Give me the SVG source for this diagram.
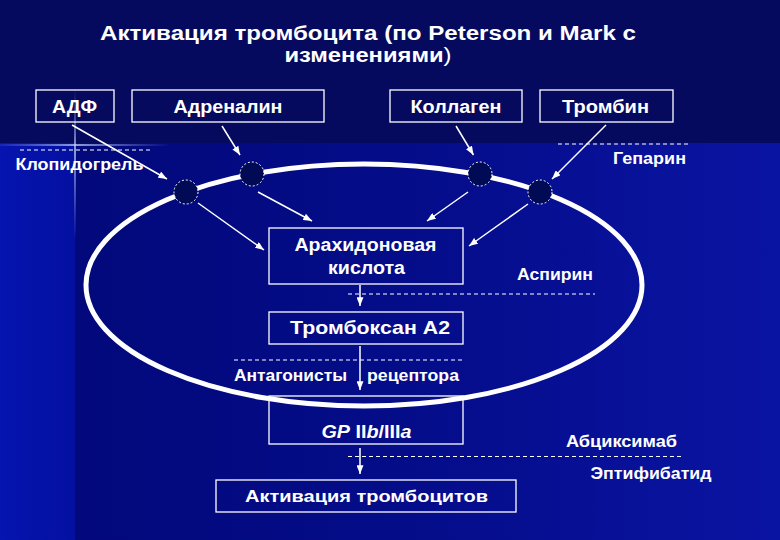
<svg xmlns="http://www.w3.org/2000/svg" width="780" height="540" viewBox="0 0 780 540">
<defs>
<style>
text{font-family:"Liberation Sans",Arial,sans-serif;font-weight:bold;fill:#fff}
.box{fill:none;stroke:#fff;stroke-width:1.3}
.conn{stroke:#fff;stroke-width:1.5;fill:none}
.dash{stroke:#fff;stroke-width:1;stroke-dasharray:4 3;fill:none}
.rec{fill:#000a55;stroke:#fff;stroke-width:1;stroke-dasharray:2 2}
</style>
<marker id="ah" viewBox="0 0 10 8" refX="10" refY="4" markerWidth="9" markerHeight="7" markerUnits="userSpaceOnUse" orient="auto">
<path d="M0,0 L10,4 L0,8 z" fill="#fff"/>
</marker>
<linearGradient id="bgm" x1="0" y1="0" x2="1" y2="0">
<stop offset="0" stop-color="#020878"/>
<stop offset="0.5" stop-color="#040c88"/>
<stop offset="1" stop-color="#0a14a2"/>
</linearGradient>
<linearGradient id="bgl" x1="0" y1="0" x2="1" y2="0">
<stop offset="0" stop-color="#0614b0"/>
<stop offset="1" stop-color="#0410a0"/>
</linearGradient>
<linearGradient id="glv" x1="0" y1="0" x2="0" y2="1">
<stop offset="0" stop-color="#9fb8ff" stop-opacity="0"/>
<stop offset="0.4" stop-color="#c8d8ff" stop-opacity="0.7"/>
<stop offset="1" stop-color="#9fb8ff" stop-opacity="0"/>
</linearGradient>
<linearGradient id="glh" x1="0" y1="0" x2="1" y2="0">
<stop offset="0" stop-color="#9fb8ff" stop-opacity="0.1"/>
<stop offset="0.45" stop-color="#c8d8ff" stop-opacity="0.7"/>
<stop offset="1" stop-color="#9fb8ff" stop-opacity="0"/>
</linearGradient>
</defs>

<g id="background">
<rect x="0" y="0" width="780" height="540" fill="url(#bgm)"/>
<rect x="0" y="143" width="75" height="397" fill="url(#bgl)"/>
<rect x="0" y="0" width="780" height="143" fill="#050a5e"/>
<rect x="74" y="90" width="2" height="150" fill="url(#glv)"/>
<rect x="0" y="144" width="170" height="2" fill="url(#glh)"/>
</g>

<g id="title">
<text x="368" y="40" font-size="20" text-anchor="middle" textLength="536" lengthAdjust="spacingAndGlyphs">Активация тромбоцита (по Peterson и Mark с</text>
<text x="368" y="62" font-size="20" text-anchor="middle" textLength="167" lengthAdjust="spacingAndGlyphs">изменениями<tspan font-weight="normal">)</tspan></text>
</g>

<g id="membrane">
<ellipse cx="364" cy="285" rx="278" ry="121" fill="none" stroke="#fff" stroke-width="5"/>
</g>

<g id="node-adp">
<rect class="box" x="36" y="90" width="78" height="32"/>
<text x="74.5" y="113" font-size="18" text-anchor="middle" textLength="45" lengthAdjust="spacingAndGlyphs">АДФ</text>
</g>
<g id="node-adrenalin">
<rect class="box" x="132" y="90" width="192" height="32"/>
<text x="228" y="113" font-size="18" text-anchor="middle" textLength="109" lengthAdjust="spacingAndGlyphs">Адреналин</text>
</g>
<g id="node-collagen">
<rect class="box" x="390" y="90" width="132" height="32"/>
<text x="456" y="113" font-size="18" text-anchor="middle" textLength="91" lengthAdjust="spacingAndGlyphs">Коллаген</text>
</g>
<g id="node-thrombin">
<rect class="box" x="540" y="90" width="133" height="32"/>
<text x="605.5" y="113" font-size="18" text-anchor="middle" textLength="87" lengthAdjust="spacingAndGlyphs">Тромбин</text>
</g>

<g id="node-arachidonic">
<rect class="box" x="269" y="228" width="194" height="56"/>
<text x="365.5" y="251" font-size="18" text-anchor="middle" textLength="142" lengthAdjust="spacingAndGlyphs">Арахидоновая</text>
<text x="366.5" y="274" font-size="18" text-anchor="middle" textLength="77" lengthAdjust="spacingAndGlyphs">кислота</text>
</g>
<g id="node-thromboxane">
<rect class="box" x="269" y="312" width="194" height="32"/>
<text x="370" y="334" font-size="19" text-anchor="middle" textLength="160" lengthAdjust="spacingAndGlyphs">Тромбоксан А2</text>
</g>
<g id="node-gp">
<rect class="box" x="269" y="396" width="194" height="48"/>
<text x="366.5" y="438" font-size="18" text-anchor="middle" textLength="90" lengthAdjust="spacingAndGlyphs"><tspan font-style="italic">GP</tspan> II<tspan font-style="italic">b</tspan>/III<tspan font-style="italic">a</tspan></text>
</g>
<g id="node-activation">
<rect class="box" x="216" y="480" width="300" height="32"/>
<text x="366.5" y="502" font-size="17" text-anchor="middle" textLength="243" lengthAdjust="spacingAndGlyphs">Активация тромбоцитов</text>
</g>

<g id="receptors">
<circle id="rec-1" class="rec" cx="186" cy="192" r="12"/>
<circle id="rec-2" class="rec" cx="252" cy="174" r="12"/>
<circle id="rec-3" class="rec" cx="480" cy="174" r="12"/>
<circle id="rec-4" class="rec" cx="540" cy="192" r="12"/>
</g>

<g id="connectors">
<line class="conn" x1="72" y1="125" x2="167" y2="179" marker-end="url(#ah)"/>
<line class="conn" x1="222" y1="126" x2="240" y2="155" marker-end="url(#ah)"/>
<line class="conn" x1="456" y1="126" x2="473.5" y2="155" marker-end="url(#ah)"/>
<line class="conn" x1="606" y1="125" x2="552" y2="179" marker-end="url(#ah)"/>
<line class="conn" x1="198" y1="203" x2="264" y2="250" marker-end="url(#ah)"/>
<line class="conn" x1="258" y1="192" x2="312" y2="221" marker-end="url(#ah)"/>
<line class="conn" x1="468" y1="192" x2="427" y2="221" marker-end="url(#ah)"/>
<line class="conn" x1="528" y1="204" x2="469" y2="246" marker-end="url(#ah)"/>
<line class="conn" x1="360" y1="285" x2="360" y2="306" marker-end="url(#ah)"/>
<line class="conn" x1="360" y1="346" x2="360" y2="390" marker-end="url(#ah)"/>
<line class="conn" x1="360" y1="448" x2="360" y2="474" marker-end="url(#ah)"/>
</g>

<g id="inhibitors">
<line class="dash" x1="20" y1="150" x2="152" y2="150"/>
<text x="79.5" y="170" font-size="16" text-anchor="middle" textLength="128" lengthAdjust="spacingAndGlyphs">Клопидогрель</text>
<line class="dash" x1="558" y1="144" x2="689" y2="144"/>
<text x="649.5" y="164" font-size="16" text-anchor="middle" textLength="73" lengthAdjust="spacingAndGlyphs">Гепарин</text>
<line class="dash" x1="348" y1="294" x2="595" y2="294"/>
<text x="555" y="280" font-size="16" text-anchor="middle" textLength="76" lengthAdjust="spacingAndGlyphs">Аспирин</text>
<line class="dash" x1="234" y1="360" x2="463" y2="360"/>
<text x="234" y="381" font-size="16" textLength="113" lengthAdjust="spacingAndGlyphs">Антагонисты</text>
<text x="367" y="381" font-size="16" textLength="92" lengthAdjust="spacingAndGlyphs">рецептора</text>
<line class="dash" x1="348" y1="456.5" x2="682" y2="456.5"/>
<text x="621.5" y="446.5" font-size="16" text-anchor="middle" textLength="111" lengthAdjust="spacingAndGlyphs">Абциксимаб</text>
<text x="651" y="479" font-size="16" text-anchor="middle" textLength="121" lengthAdjust="spacingAndGlyphs">Эптифибатид</text>
</g>
</svg>
